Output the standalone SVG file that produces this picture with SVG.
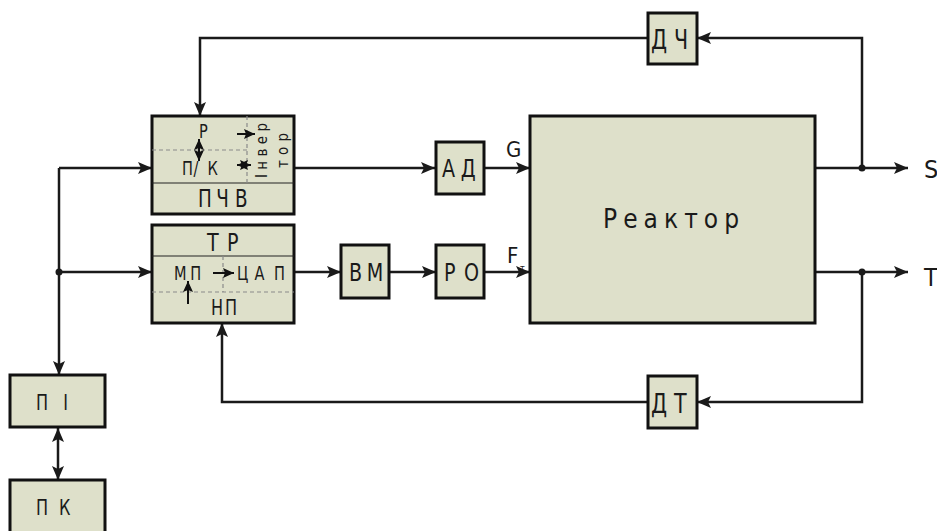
<svg xmlns="http://www.w3.org/2000/svg" width="937" height="531" viewBox="0 0 937 531">
<style>
.box{fill:#dee0ca;stroke:#111;stroke-width:3}
.ln{fill:none;stroke:#1a1a1a;stroke-width:2.5}
.dash{fill:none;stroke:#8a8a8a;stroke-width:1.2;stroke-dasharray:4 3}
.sol{fill:none;stroke:#222;stroke-width:1.2}
.sa{fill:none;stroke:#111;stroke-width:2}
.t{font-family:"DejaVu Sans",sans-serif;font-stretch:condensed;fill:#1a1a1a}
</style>
<defs>
<marker id="ah" markerUnits="userSpaceOnUse" markerWidth="14" markerHeight="12" viewBox="0 0 14 12" refX="14" refY="6" orient="auto-start-reverse">
<path d="M0,0 L14,6 L0,12 L3,6 Z" fill="#1a1a1a"/>
</marker>
<marker id="ahs" markerUnits="userSpaceOnUse" markerWidth="11" markerHeight="10" viewBox="0 0 11 10" refX="11" refY="5" orient="auto-start-reverse">
<path d="M0,0 L11,5 L0,10 L2,5 Z" fill="#111"/>
</marker>
</defs>

<g id="connectors">
<path class="ln" d="M59,168 L59,375" marker-end="url(#ah)"/>
<path class="ln" d="M59,168 L152,168" marker-end="url(#ah)"/>
<path class="ln" d="M59,272 L152,272" marker-end="url(#ah)"/>
<circle cx="59" cy="272" r="3.5" fill="#1a1a1a"/>
<path class="ln" d="M58,428 L58,480" marker-start="url(#ah)" marker-end="url(#ah)"/>
<path class="ln" d="M288,168 L435,168" marker-end="url(#ah)"/>
<path class="ln" d="M484,168 L530,168" marker-end="url(#ah)"/>
<path class="ln" d="M288,272 L341,272" marker-end="url(#ah)"/>
<path class="ln" d="M389,272 L436,272" marker-end="url(#ah)"/>
<path class="ln" d="M484,272 L530,272" marker-end="url(#ah)"/>
<path class="ln" d="M815,168 L908,168" marker-end="url(#ah)"/>
<path class="ln" d="M815,272 L908,272" marker-end="url(#ah)"/>
<circle cx="862" cy="168" r="3.5" fill="#1a1a1a"/>
<circle cx="862" cy="272" r="3.5" fill="#1a1a1a"/>
<path class="ln" d="M862,168 L862,38 L697,38" marker-end="url(#ah)"/>
<path class="ln" d="M648,38 L200,38 L200,116" marker-end="url(#ah)"/>
<path class="ln" d="M862,272 L862,402 L697,402" marker-end="url(#ah)"/>
<path class="ln" d="M648,402 L222,402 L222,323" marker-end="url(#ah)"/>
</g>

<g id="n-pchv">
<rect class="box" x="152" y="116" width="142" height="98"/>
<line class="sol" x1="152" y1="183" x2="294" y2="183"/>
<line class="dash" x1="152" y1="150" x2="247" y2="150"/>
<line class="dash" x1="247" y1="116" x2="247" y2="183"/>
<text class="t" transform="translate(199,138) scale(0.85,1)" font-size="19">Р</text>
<text class="t" transform="translate(182,175) scale(0.85,1)" x="0 13.5 30" font-size="19">П/К</text>
<text class="t" transform="translate(198,207) scale(0.85,1)" x="0 21.5 43.5" font-size="24">ПЧВ</text>
<path class="sa" d="M237,134 L255,134" marker-end="url(#ahs)"/>
<path class="sa" d="M199,139 L199,161" marker-start="url(#ahs)" marker-end="url(#ahs)"/>
<path class="sa" d="M237,165 L251,165" marker-start="url(#ahs)" marker-end="url(#ahs)"/>
<text class="t" font-size="15" textLength="55" lengthAdjust="spacing" transform="translate(267,178) rotate(-90)">Інвер</text>
<text class="t" font-size="15" textLength="35" lengthAdjust="spacing" transform="translate(288,168) rotate(-90)">тор</text>
</g>

<g id="n-tr">
<rect class="box" x="152" y="225" width="142" height="98"/>
<line class="sol" x1="152" y1="256" x2="294" y2="256"/>
<line class="dash" x1="152" y1="292" x2="294" y2="292"/>
<line class="dash" x1="223" y1="256" x2="223" y2="292"/>
<text class="t" transform="translate(207,251) scale(0.85,1)" x="0 23.5" font-size="25">ТР</text>
<text class="t" transform="translate(174,280) scale(0.85,1)" x="0 19" font-size="19">МП</text>
<text class="t" transform="translate(237,280) scale(0.85,1)" x="0 20.5 43.5" font-size="19">ЦАП</text>
<text class="t" transform="translate(211,315) scale(0.85,1)" x="0 16.5" font-size="21">НП</text>
<path class="sa" d="M213,273 L234,273" marker-end="url(#ahs)"/>
<path class="sa" d="M188,304 L188,281" marker-end="url(#ahs)"/>
</g>

<g id="n-ad">
<rect class="box" x="436" y="142" width="48" height="52"/>
<text class="t" transform="translate(442,177) scale(0.85,1)" x="0 22" font-size="25">АД</text>
</g>
<g id="n-vm">
<rect class="box" x="341" y="245" width="48" height="53"/>
<text class="t" transform="translate(349,281) scale(0.85,1)" x="0 21" font-size="25">ВМ</text>
</g>
<g id="n-ro">
<rect class="box" x="436" y="245" width="48" height="53"/>
<text class="t" transform="translate(444,281) scale(0.85,1)" x="0 23.5" font-size="25">РО</text>
</g>

<g id="n-reactor">
<rect class="box" x="530" y="116" width="285" height="207"/>
<text class="t" x="603" y="228" font-size="26" textLength="136" lengthAdjust="spacing">Реактор</text>
</g>
<text class="t" x="506" y="157" font-size="22">G</text>
<text class="t" x="507" y="263" font-size="22">F</text>
<text class="t" x="520" y="271" font-size="9">т</text>
<text class="t" x="924" y="178" font-size="25">S</text>
<text class="t" x="924" y="286" font-size="25">T</text>

<g id="n-dch">
<rect class="box" x="648" y="13" width="49" height="51"/>
<text class="t" transform="translate(651,49) scale(0.85,1)" x="0 27" font-size="27">ДЧ</text>
</g>
<g id="n-dt">
<rect class="box" x="648" y="376" width="49" height="52"/>
<text class="t" transform="translate(651,413) scale(0.85,1)" x="0 27" font-size="27">ДТ</text>
</g>

<g id="n-pi">
<rect class="box" x="10" y="375" width="95" height="52"/>
<text class="t" transform="translate(36,410) scale(0.85,1)" x="0 32" font-size="21">ПІ</text>
</g>
<g id="n-pk">
<rect class="box" x="10" y="480" width="95" height="53"/>
<text class="t" transform="translate(36,515) scale(0.85,1)" x="0 27" font-size="21">ПК</text>
</g>
</svg>
